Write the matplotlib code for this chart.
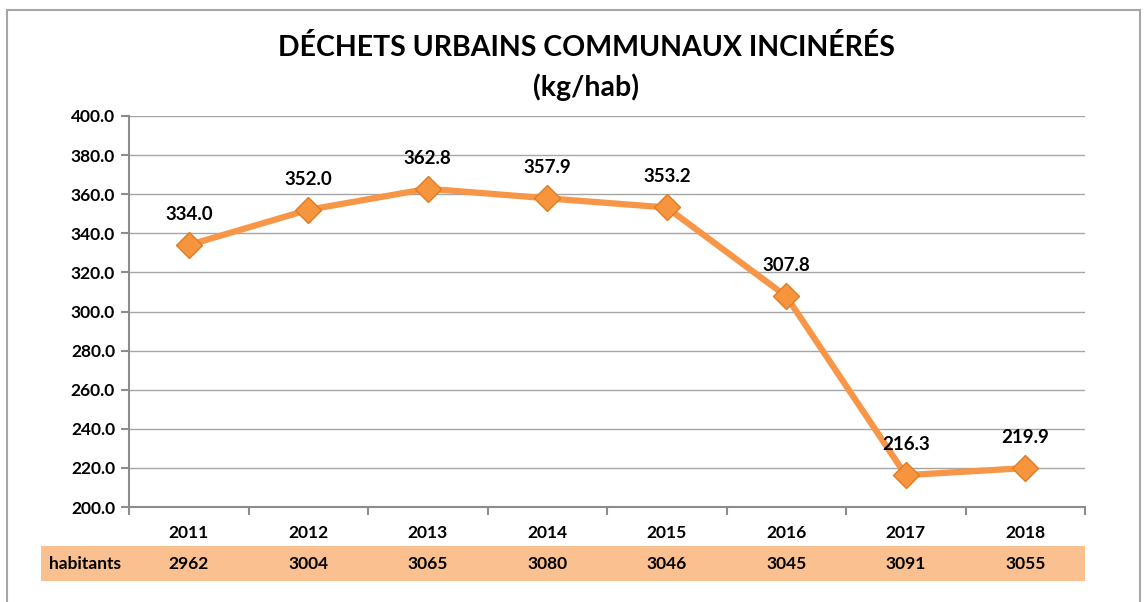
import matplotlib.pyplot as plt
from matplotlib.patches import Rectangle
from matplotlib.transforms import blended_transform_factory

plt.rcParams['font.family'] = ['Lato', 'DejaVu Sans']

years = ["2011", "2012", "2013", "2014", "2015", "2016", "2017", "2018"]
kg_per_hab = [334.0, 352.0, 362.8, 357.9, 353.2, 307.8, 216.3, 219.9]
habitants = [2962, 3004, 3065, 3080, 3046, 3045, 3091, 3055]

W, H = 1148, 602
fig = plt.figure(figsize=(W / 100, H / 100), dpi=100)

# outer frame
fig.patches.append(Rectangle((7 / W, -0.01), (1140 - 7) / W, 1 - 10 / H + 0.01,
                             transform=fig.transFigure, fill=False,
                             edgecolor="#a6a6a6", linewidth=1.5, zorder=0))

# habitants band
fig.patches.append(Rectangle((41 / W, 1 - 581 / H), (1085 - 41) / W, 35 / H,
                             transform=fig.transFigure, facecolor="#fac090",
                             edgecolor="none", zorder=0))

ax = fig.add_axes([129 / W, 1 - 507 / H, (1085 - 129) / W, (507 - 116) / H])
ax.set_zorder(2)
ax.patch.set_alpha(0)
x = list(range(len(years)))

ax.plot(x, kg_per_hab, color="#f79646", linewidth=4.5, zorder=3,
        marker="D", markersize=13, markerfacecolor="#f7953f",
        markeredgecolor="#e07b22", markeredgewidth=1)

for xi, v in zip(x, kg_per_hab):
    ax.annotate(f"{v:.1f}", (xi, v), xytext=(0, 16), textcoords="offset points",
                ha="center", va="bottom", fontsize=13.5, fontweight="bold")

ax.set_xlim(-0.5, len(years) - 0.5)
ax.set_ylim(200, 400)
ax.set_yticks(range(200, 401, 20))
ax.set_yticklabels([f"{v:.1f}" for v in range(200, 401, 20)],
                   fontsize=12.5, fontweight="bold")
ax.yaxis.grid(True, color="#a6a6a6", linewidth=1)
ax.set_axisbelow(True)

ax.set_xticks(x)
ax.set_xticklabels(years, fontsize=12.5, fontweight="bold")
ax.tick_params(axis="x", length=0, pad=13)
ax.set_xticks([i - 0.5 for i in range(len(years) + 1)], minor=True)
ax.tick_params(axis="x", which="minor", length=6, color="#8c8c8c", width=1.5)
ax.tick_params(axis="y", length=6, color="#8c8c8c", width=1.5, pad=4)

for s in ["top", "right"]:
    ax.spines[s].set_visible(False)
for s in ["left", "bottom"]:
    ax.spines[s].set_color("#8c8c8c")
    ax.spines[s].set_linewidth(1.5)

tr = blended_transform_factory(ax.transData, fig.transFigure)
yb = 1 - 564 / H
fig.text(85 / W, yb, "habitants", ha="center", va="center",
         fontsize=12.5, fontweight="bold")
for xi, h in zip(x, habitants):
    fig.text(xi, yb, str(h), transform=tr, ha="center", va="center",
             fontsize=12.5, fontweight="bold")

fig.text(586 / W, 1 - 47 / H, "DÉCHETS URBAINS COMMUNAUX INCINÉRÉS",
         ha="center", va="center", fontsize=20.5, fontweight="bold")
fig.text(586 / W, 1 - 87 / H, "(kg/hab)",
         ha="center", va="center", fontsize=20.5, fontweight="bold")

fig.savefig("out.png", dpi=100)
